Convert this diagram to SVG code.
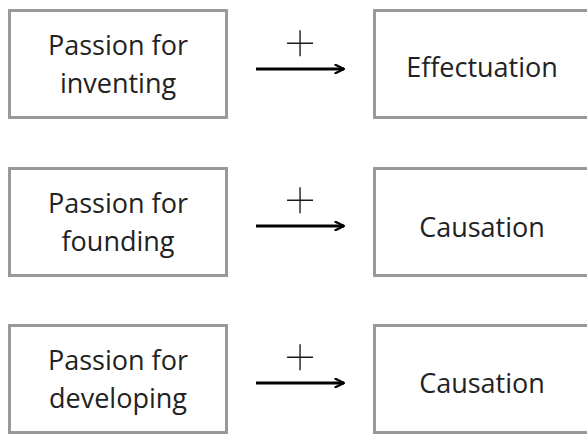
<svg xmlns="http://www.w3.org/2000/svg" width="587" height="435" viewBox="0 0 587 435">
<defs>
<style>
.box{fill:#fff;stroke:#999;stroke-width:3}
.t{font-family:"Open Sans","Liberation Sans",sans-serif;font-size:27px;fill:#222;text-anchor:middle}
.plus{font-family:"Inter","Open Sans",sans-serif;font-weight:100;font-size:63px;fill:#1a1a1a;text-anchor:middle}
.edge{stroke:#000;stroke-width:3;fill:none}
</style>
<marker id="ah" viewBox="0 0 10 10" refX="9" refY="5" markerWidth="3.6" markerHeight="3.6" orient="auto" markerUnits="strokeWidth">
<path d="M1,1 L9,5 L1,9" fill="none" stroke="#000" stroke-width="2" stroke-linecap="round" stroke-linejoin="round"/>
</marker>
</defs>
<rect width="587" height="435" fill="#fff"/>
<g id="n1">
<rect class="box" x="9.5" y="10.5" width="217" height="107"/>
<text class="t" x="118" y="55">Passion for</text>
<text class="t" x="118" y="93">inventing</text>
</g>
<g id="n2">
<rect class="box" x="374.5" y="10.5" width="217" height="107"/>
<text class="t" x="482" y="77">Effectuation</text>
</g>
<g id="n3">
<rect class="box" x="9.5" y="168.5" width="217" height="107"/>
<text class="t" x="118" y="213">Passion for</text>
<text class="t" x="118" y="251">founding</text>
</g>
<g id="n4">
<rect class="box" x="374.5" y="168.5" width="217" height="107"/>
<text class="t" x="482" y="237">Causation</text>
</g>
<g id="n5">
<rect class="box" x="9.5" y="325.5" width="217" height="107"/>
<text class="t" x="118" y="370">Passion for</text>
<text class="t" x="118" y="408">developing</text>
</g>
<g id="n6">
<rect class="box" x="374.5" y="325.5" width="217" height="107"/>
<text class="t" x="482" y="393">Causation</text>
</g>
<g id="edges">
<line class="edge" x1="256" y1="69" x2="344" y2="69" marker-end="url(#ah)"/>
<line class="edge" x1="256" y1="226" x2="344" y2="226" marker-end="url(#ah)"/>
<line class="edge" x1="256" y1="383" x2="344" y2="383" marker-end="url(#ah)"/>
<text class="plus" x="300" y="61">+</text>
<text class="plus" x="300" y="218">+</text>
<text class="plus" x="300" y="375">+</text>
</g>
</svg>
